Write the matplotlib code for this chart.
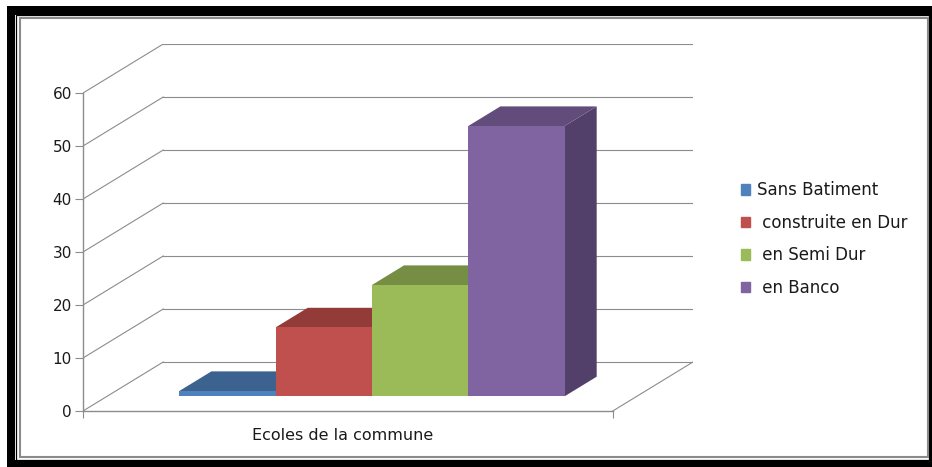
import numpy as np
import matplotlib
matplotlib.use('Agg')
import matplotlib.pyplot as plt
from matplotlib.patches import Polygon, Rectangle

# data
category = 'Ecoles de la commune'
series = ['Sans Batiment', ' construite en Dur', ' en Semi Dur', ' en Banco']
values = [1, 13, 21, 51]
yticks = [0, 10, 20, 30, 40, 50, 60]

# colours (front, top, side)
front_cols = ['#4F81BD', '#C0504D', '#9BBB59', '#8064A2']
top_cols = ['#3C6290', '#933B39', '#768E44', '#624C7C']
side_cols = ['#3A5A82', '#8A3835', '#6E843F', '#52406A']
grid_col = '#8c8c8c'

# oblique 3d geometry, in data units
dx = 0.833   # depth along x (category units)
dy = 9.25    # depth along y (value units)
x0, x1 = -2.75, 2.75
f_front, f_back = 0.3, 0.7

plt.rcParams['font.family'] = ['DejaVu Sans']
fig = plt.figure(figsize=(9.32, 4.67), dpi=100)
ax = fig.add_axes([83/932, 56/467, 610/932, 367/467])
ax.set_xlim(x0, x1 + dx)
ax.set_ylim(0, 60 + dy)

# walls and gridlines
for v in yticks:
  ax.plot([x0, x0 + dx], [v, v + dy], color=grid_col, lw=0.8, zorder=1)
  ax.plot([x0 + dx, x1 + dx], [v + dy, v + dy], color=grid_col, lw=0.8, zorder=1)
ax.plot([x1, x1 + dx], [0, dy], color=grid_col, lw=0.8, zorder=1)

# bars
lefts = x0 + 0.75 + np.arange(len(values))
ax.bar(lefts + 0.5 + f_front*dx, values, width=1.0, bottom=f_front*dy,
       color=front_cols, linewidth=0, zorder=4, label='_nolegend_')
for i, v in enumerate(values):
  xl = lefts[i]
  top = [(xl + f_front*dx, v + f_front*dy), (xl + 1 + f_front*dx, v + f_front*dy),
         (xl + 1 + f_back*dx, v + f_back*dy), (xl + f_back*dx, v + f_back*dy)]
  ax.add_patch(Polygon(top, closed=True, color=top_cols[i], lw=0, zorder=3))
  side = [(xl + 1 + f_front*dx, f_front*dy), (xl + 1 + f_back*dx, f_back*dy),
          (xl + 1 + f_back*dx, v + f_back*dy), (xl + 1 + f_front*dx, v + f_front*dy)]
  ax.add_patch(Polygon(side, closed=True, color=side_cols[i], lw=0, zorder=2))

# axes
for s in ['top', 'right']:
  ax.spines[s].set_visible(False)
ax.spines['left'].set_bounds(0, 60)
ax.spines['bottom'].set_bounds(x0, x1)
for s in ['left', 'bottom']:
  ax.spines[s].set_color(grid_col)
  ax.spines[s].set_linewidth(1.0)
ax.set_yticks(yticks)
ax.tick_params(axis='y', direction='out', length=6, width=0.8, color=grid_col,
               labelsize=11, pad=2, labelcolor='#1a1a1a')
ax.set_xticks([-0.05])
ax.set_xticklabels([category])
ax.set_xticks([x0, x1], minor=True)
ax.tick_params(axis='x', which='major', length=0, labelsize=11.5, pad=12,
               labelcolor='#1a1a1a')
ax.tick_params(axis='x', which='minor', direction='out', length=5, width=0.8,
               color=grid_col)
ax.set_facecolor('none')

# legend
handles = [Rectangle((0, 0), 1, 1, color=c) for c in front_cols]
fig.legend(handles, series, loc='center left', bbox_to_anchor=(726/932, 0.488),
           frameon=False, fontsize=12, handlelength=0.55, handleheight=0.6,
           handletextpad=0.4, labelspacing=0.87, labelcolor='#1a1a1a')

# frame round the picture
ft = fig.transFigure
W, H = 932.0, 467.0
def frect(x, y, w, h, **kw):
  fig.patches.append(Rectangle((x/W, 1 - (y + h)/H), w/W, h/H, transform=ft,
                               figure=fig, **kw))
frect(7, 6, 925, 9, color='black', lw=0)      # top
frect(7, 6, 8, 461, color='black', lw=0)      # left
frect(7, 460, 925, 7, color='black', lw=0)    # bottom
frect(929, 6, 3, 461, color='black', lw=0)    # right
frect(16, 15, 913, 445, fill=False, ec='black', lw=0.9)
frect(20, 18, 908, 439, fill=False, ec='#8a8a8a', lw=1.5)

fig.savefig('out.png', dpi=100)
